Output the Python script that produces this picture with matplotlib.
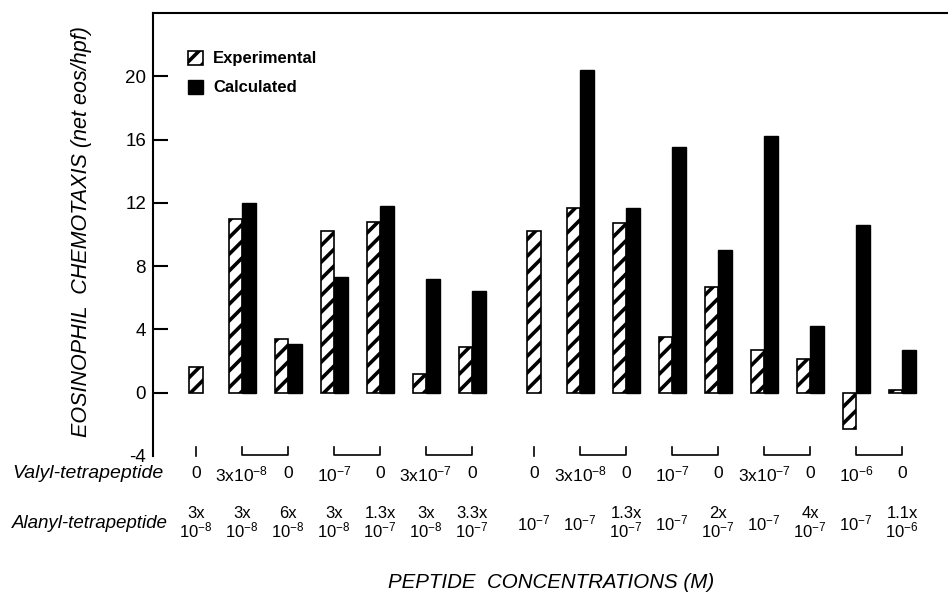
import numpy as np
import matplotlib
matplotlib.use("Agg")
import matplotlib.pyplot as plt
from matplotlib import transforms

plt.rcParams['font.family'] = ['Liberation Sans', 'DejaVu Sans']
plt.rcParams['mathtext.default'] = 'regular'
plt.rcParams['hatch.linewidth'] = 2.6

# данные
experimental = [1.6, 11.0, 3.4, 10.2, 10.8, 1.2, 2.9, 10.2,
                11.7, 10.7, 3.5, 6.7, 2.7, 2.1, -2.3, 0.2]
calculated = [np.nan, 12.0, 3.1, 7.3, 11.8, 7.2, 6.4, np.nan,
              20.4, 11.7, 15.5, 9.0, 16.2, 4.2, 10.6, 2.7]

valyl = ['0', '3x10$^{-8}$', '0', '10$^{-7}$', '0', '3x10$^{-7}$', '0',
         '0', '3x10$^{-8}$', '0', '10$^{-7}$', '0', '3x10$^{-7}$', '0', '10$^{-6}$', '0']
alanyl = ['3x\n10$^{-8}$', '3x\n10$^{-8}$', '6x\n10$^{-8}$', '3x\n10$^{-8}$',
          '1.3x\n10$^{-7}$', '3x\n10$^{-8}$', '3.3x\n10$^{-7}$',
          '10$^{-7}$', '10$^{-7}$', '1.3x\n10$^{-7}$', '10$^{-7}$', '2x\n10$^{-7}$',
          '10$^{-7}$', '4x\n10$^{-7}$', '10$^{-7}$', '1.1x\n10$^{-6}$']

brackets = [(1, 2), (3, 4), (5, 6), (8, 9), (10, 11), (12, 13), (14, 15)]  # пары групп под скобкой
singles = [0, 7]  # одиночные отметки

y_ticks = [-4, 0, 4, 8, 12, 16, 20]
y_tick_labels = ['-4', '0', '4', '8', '12', '16', '20']

W, H = 948, 593
fig = plt.figure(figsize=(W / 100, H / 100), dpi=100)
ax = fig.add_axes([153 / W, 1 - 456 / H, 0.86, (456 - 13) / H])

n = len(experimental)
pos = np.arange(n, dtype=float)
pos[7:] += 0.35  # разрыв между двумя сериями
w = 0.29

exp_x = [p if np.isnan(c) else p - w / 2 for p, c in zip(pos, calculated)]
b1 = ax.bar(exp_x, experimental, width=w, color='white', edgecolor='black',
            hatch='//', linewidth=1.2, label='Experimental')
b2 = ax.bar(pos + w / 2, calculated, width=w + 0.02, color='black', edgecolor='black',
            linewidth=1.0, label='Calculated')

ax.set_xlim(-0.935, -0.935 + 0.86 * W / 46)
ax.set_ylim(-4, 24)
ax.set_yticks(y_ticks)
ax.set_yticklabels(y_tick_labels, fontsize=13.5)
ax.tick_params(axis='y', direction='in', length=11, width=1.5, pad=5)
ax.yaxis.get_major_ticks()[0].tick1line.set_visible(False)
ax.set_xticks([])
for s in ['right', 'bottom']:
    ax.spines[s].set_visible(False)
ax.spines['left'].set_linewidth(1.5)
ax.spines['top'].set_linewidth(1.5)

fig.text(82 / W, 1 - 232 / H, 'EOSINOPHIL  CHEMOTAXIS (net eos/hpf)', rotation=90,
         style='italic', fontsize=15.5, ha='center', va='center')

leg = ax.legend(handles=[b1, b2], loc='upper left', bbox_to_anchor=(0.035, 0.93),
                frameon=False, handlelength=0.9, handleheight=0.9, handletextpad=0.6,
                labelspacing=0.8, borderaxespad=0,
                prop={'size': 12, 'weight': 'bold'})

# подписи концентраций под осью
tr = transforms.blended_transform_factory(ax.transData, fig.transFigure)


def fy(px):
    return 1 - px / H


for i in singles:
    ax.plot([pos[i], pos[i]], [fy(447), fy(456)], color='black', lw=1.2,
            transform=tr, clip_on=False)
for a, b in brackets:
    ax.plot([pos[a], pos[a], pos[b], pos[b]], [fy(447), fy(455), fy(455), fy(447)],
            color='black', lw=1.2, transform=tr, clip_on=False)

for i in range(n):
    ax.text(pos[i], fy(474), valyl[i], transform=tr, ha='center', va='center', fontsize=12.5)
    ax.text(pos[i], fy(523), alanyl[i], transform=tr, ha='center', va='center',
            fontsize=12, linespacing=1.0)

fig.text(12 / W, fy(474), 'Valyl-tetrapeptide', style='italic', fontsize=14,
         ha='left', va='center')
fig.text(12 / W, fy(524), 'Alanyl-tetrapeptide', style='italic', fontsize=13.5,
         ha='left', va='center')
fig.text(551 / W, fy(583), 'PEPTIDE  CONCENTRATIONS (M)', style='italic', fontsize=14.8,
         ha='center', va='center')

fig.savefig('out.png', dpi=100)
